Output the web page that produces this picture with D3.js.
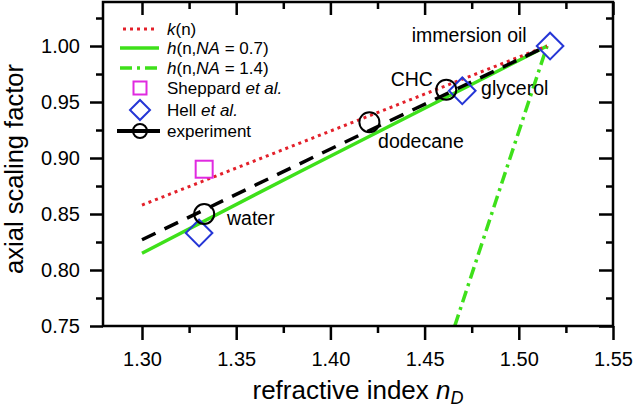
<!DOCTYPE html>
<html>
<head>
<meta charset="utf-8">
<script src="https://cdn.jsdelivr.net/npm/d3@7"></script>
<style>
  body { margin: 0; background: #fff; }
  svg text { font-family: "Liberation Sans", Arial, sans-serif; fill: #000; }
</style>
</head>
<body>
<script>
// axial scaling factor vs refractive index

var width = 633, height = 408;
var margin = {top: 2, right: 20, bottom: 82, left: 103};

// theory curves
var kN = [1.30, 1.515],
    kVal = [0.858, 1.0];
var h07N = [1.30, 1.384, 1.515],
    h07Val = [0.815, 0.888, 1.0];
var h14N = [1.466, 1.488, 1.515],
    h14Val = [0.75, 0.8625, 1.0];
var expLineN = [1.30, 1.395, 1.515],
    expLineVal = [0.827, 0.904, 1.0];

// measured points
var sheppardN = [1.333],
    sheppardVal = [0.890];
var hellN = [1.3303, 1.470, 1.5166],
    hellVal = [0.833, 0.960, 1.000];
var expN = [1.333, 1.4207, 1.4615],
    expVal = [0.850, 0.932, 0.961];

// point labels
var labelText = ["water", "dodecane", "CHC", "glycerol", "immersion oil"],
    labelN = [1.3451, 1.4253, 1.4320, 1.4800, 1.4432],
    labelVal = [0.8402, 0.9092, 0.9643, 0.9563, 1.0038];

var xTicks = [1.30, 1.35, 1.40, 1.45, 1.50, 1.55],
    xMinor = [1.325, 1.375, 1.425, 1.475, 1.525],
    yTicks = [0.75, 0.80, 0.85, 0.90, 0.95, 1.00],
    yMinor = [0.775, 0.825, 0.875, 0.925, 0.975, 1.025];

var green = "#3ee01a", red = "#e3202a", blue = "#2536d6", magenta = "#e02ae0";

var x = d3.scaleLinear().domain([1.2793, 1.55]).range([margin.left, width - margin.right]);
var y = d3.scaleLinear().domain([0.75, 1.0393]).range([height - margin.bottom, margin.top]);

var svg = d3.select("body").append("svg")
    .attr("width", width)
    .attr("height", height);

svg.append("clipPath").attr("id", "plot")
  .append("rect")
    .attr("x", x.range()[0]).attr("y", y.range()[1])
    .attr("width", x.range()[1] - x.range()[0])
    .attr("height", y.range()[0] - y.range()[1]);

function pairs(ns, vs) { return ns.map(function(n, i) { return [n, vs[i]]; }); }

var line = d3.line()
    .x(function(d) { return x(d[0]); })
    .y(function(d) { return y(d[1]); });

var curves = svg.append("g").attr("clip-path", "url(#plot)").attr("fill", "none");

curves.append("path").datum(pairs(h07N, h07Val))
    .attr("d", line).attr("stroke", green).attr("stroke-width", 3.5);
curves.append("path").datum(pairs(h14N, h14Val))
    .attr("d", line).attr("stroke", green).attr("stroke-width", 3.5)
    .attr("stroke-dasharray", "12 5 3 5");
curves.append("path").datum(pairs(kN, kVal))
    .attr("d", line).attr("stroke", red).attr("stroke-width", 3)
    .attr("stroke-dasharray", "3 4");
curves.append("path").datum(pairs(expLineN, expLineVal))
    .attr("d", line).attr("stroke", "#000").attr("stroke-width", 3.5)
    .attr("stroke-dasharray", "15 10");

// markers
svg.selectAll(".sq").data(pairs(sheppardN, sheppardVal))
  .enter().append("rect")
    .attr("x", function(d) { return x(d[0]) - 8.5; })
    .attr("y", function(d) { return y(d[1]) - 8.5; })
    .attr("width", 17).attr("height", 17)
    .attr("fill", "none").attr("stroke", magenta).attr("stroke-width", 2);

var diamond = d3.symbol().type(d3.symbolSquare).size(13.3 * 13.3 * 2);
svg.selectAll(".dm").data(pairs(hellN, hellVal))
  .enter().append("path")
    .attr("d", diamond)
    .attr("transform", function(d) { return "translate(" + x(d[0]) + "," + y(d[1]) + ") rotate(45)"; })
    .attr("fill", "none").attr("stroke", blue).attr("stroke-width", 2);

svg.selectAll(".ci").data(pairs(expN, expVal))
  .enter().append("circle")
    .attr("cx", function(d) { return x(d[0]); })
    .attr("cy", function(d) { return y(d[1]); })
    .attr("r", 10)
    .attr("fill", "none").attr("stroke", "#000").attr("stroke-width", 2);

svg.selectAll(".lbl").data(labelText)
  .enter().append("text")
    .attr("x", function(d, i) { return x(labelN[i]); })
    .attr("y", function(d, i) { return y(labelVal[i]); })
    .style("font-size", "19.5px")
    .text(function(d) { return d; });

// axes
var fmt = d3.format(".2f");
function styleAxis(g) {
  g.select(".domain").remove();
  g.selectAll("line").attr("stroke", "#000").attr("stroke-width", 2.5);
  g.selectAll("text").style("font-size", "20px").style("font-family", "'Liberation Sans', Arial, sans-serif");
}
var y0 = y.range()[0], y1 = y.range()[1], x0 = x.range()[0], x1 = x.range()[1];

svg.append("g").attr("transform", "translate(0," + y0 + ")")
    .call(d3.axisBottom(x).tickValues(xTicks).tickFormat(fmt).tickSize(14).tickPadding(12)).call(styleAxis);
svg.append("g").attr("transform", "translate(0," + y0 + ")")
    .call(d3.axisBottom(x).tickValues(xMinor).tickFormat("").tickSize(7)).call(styleAxis);
svg.append("g").attr("transform", "translate(0," + y1 + ")")
    .call(d3.axisBottom(x).tickValues(xTicks).tickFormat("").tickSize(13)).call(styleAxis);
svg.append("g").attr("transform", "translate(0," + y1 + ")")
    .call(d3.axisBottom(x).tickValues(xMinor).tickFormat("").tickSize(7)).call(styleAxis);

svg.append("g").attr("transform", "translate(" + x0 + ",0)")
    .call(d3.axisLeft(y).tickValues(yTicks).tickFormat(fmt).tickSize(13).tickPadding(10)).call(styleAxis);
svg.append("g").attr("transform", "translate(" + x0 + ",0)")
    .call(d3.axisLeft(y).tickValues(yMinor).tickFormat("").tickSize(7)).call(styleAxis);
svg.append("g").attr("transform", "translate(" + x1 + ",0)")
    .call(d3.axisLeft(y).tickValues(yTicks).tickFormat("").tickSize(14)).call(styleAxis);
svg.append("g").attr("transform", "translate(" + x1 + ",0)")
    .call(d3.axisLeft(y).tickValues(yMinor).tickFormat("").tickSize(7)).call(styleAxis);

svg.append("rect")
    .attr("x", x0).attr("y", y1)
    .attr("width", x1 - x0).attr("height", y0 - y1)
    .attr("fill", "none").attr("stroke", "#000").attr("stroke-width", 2.5);

// axis titles
svg.append("text")
    .attr("transform", "translate(23," + ((y0 + y1) / 2 + 5) + ") rotate(-90)")
    .attr("text-anchor", "middle")
    .style("font-size", "25.5px")
    .text("axial scaling factor");

var xt = svg.append("text")
    .attr("x", (x0 + x1) / 2).attr("y", 399)
    .attr("text-anchor", "middle")
    .style("font-size", "26px");
xt.append("tspan").text("refractive index ");
xt.append("tspan").style("font-style", "italic").text("n");
xt.append("tspan").style("font-style", "italic").style("font-size", "18px").attr("dy", 5).text("D");

// legend
var leg = svg.append("g");
var rowY = [29, 48, 68, 88, 110, 131];
var lx0 = 120, lx1 = 159, lc = 140, tx = 167;

function legText(i, parts) {
  var t = leg.append("text").attr("x", tx).attr("y", rowY[i]).attr("dy", "0.35em").style("font-size", "17px");
  parts.forEach(function(p) {
    t.append("tspan").style("font-style", p[1] ? "italic" : "normal").text(p[0]);
  });
}

leg.append("line").attr("x1", lx0 + 3).attr("x2", lx1 - 2).attr("y1", rowY[0]).attr("y2", rowY[0])
    .attr("stroke", red).attr("stroke-width", 3).attr("stroke-dasharray", "3 4");
legText(0, [["k", true], ["(n)", false]]);

leg.append("line").attr("x1", lx0).attr("x2", lx1).attr("y1", rowY[1]).attr("y2", rowY[1])
    .attr("stroke", green).attr("stroke-width", 3.5);
legText(1, [["h", true], ["(n,", false], ["NA", true], [" = 0.7)", false]]);

leg.append("line").attr("x1", lx0).attr("x2", lx1).attr("y1", rowY[2]).attr("y2", rowY[2])
    .attr("stroke", green).attr("stroke-width", 3.5).attr("stroke-dasharray", "12 5 3 5");
legText(2, [["h", true], ["(n,", false], ["NA", true], [" = 1.4)", false]]);

leg.append("rect").attr("x", lc - 6.5).attr("y", rowY[3] - 6.5).attr("width", 13).attr("height", 13)
    .attr("fill", "none").attr("stroke", magenta).attr("stroke-width", 2);
legText(3, [["Sheppard ", false], ["et al.", true]]);

leg.append("path").attr("d", d3.symbol().type(d3.symbolSquare).size(10 * 10 * 2))
    .attr("transform", "translate(" + lc + "," + rowY[4] + ") rotate(45)")
    .attr("fill", "none").attr("stroke", blue).attr("stroke-width", 2);
legText(4, [["Hell ", false], ["et al.", true]]);

leg.append("line").attr("x1", lx0 - 3).attr("x2", lx1 + 1).attr("y1", rowY[5]).attr("y2", rowY[5])
    .attr("stroke", "#000").attr("stroke-width", 4);
leg.append("circle").attr("cx", lc).attr("cy", rowY[5]).attr("r", 7)
    .attr("fill", "none").attr("stroke", "#000").attr("stroke-width", 2);
legText(5, [["experiment", false]]);
</script>
</body>
</html>
